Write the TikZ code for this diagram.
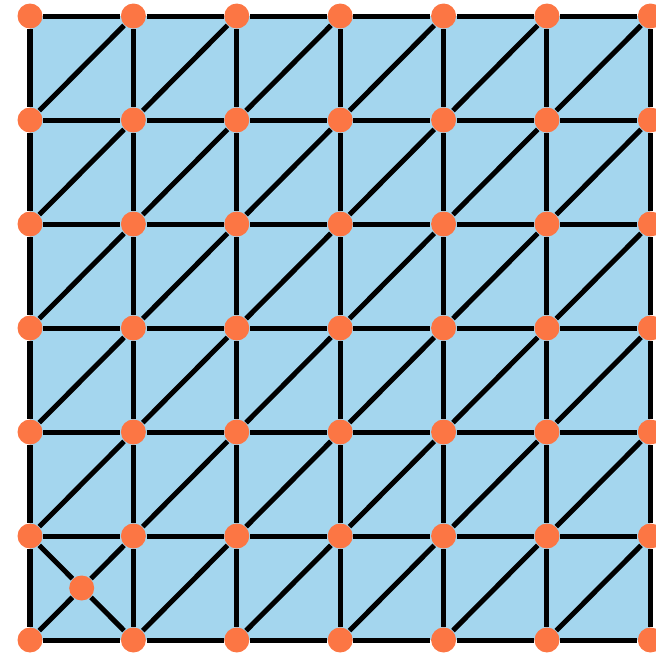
\documentclass[tikz,border=0pt]{standalone}
\usetikzlibrary{calc}
\definecolor{meshblue}{RGB}{164,214,238}
\definecolor{vertorange}{RGB}{252,118,68}

\begin{document}
\begin{tikzpicture}[
  x=1cm, y=1cm,
  vert/.style={circle, fill=vertorange, inner sep=0pt, minimum size=0.25cm},
  edge/.style={draw=black, line width=0.05cm}
]
  \useasboundingbox (0,0) rectangle (6.56,6.57);
  \clip (0,0) rectangle (6.56,6.57);

  % Fondo azul de la malla
  \fill[meshblue] (0.30,0.17) rectangle (6.504,6.41);

  % Vertices de la malla (7 x 7)
  \foreach \i in {0,...,6}{
    \foreach \j in {0,...,6}{
      \node[vert] (v-\i-\j) at ({0.30+1.034*\i},{0.17+1.04*\j}) {};
    }
  }
  % Vertice extra en la celda inferior izquierda
  \node[vert] (c) at ($(v-0-0)!0.5!(v-1-1)$) {};

  % Aristas horizontales y verticales
  \foreach \i [evaluate=\i as \k using int(\i+1)] in {0,...,5}{
    \foreach \j in {0,...,6}{
      \draw[edge] (v-\i-\j) -- (v-\k-\j);
      \draw[edge] (v-\j-\i) -- (v-\j-\k);
    }
  }

  % Diagonales de cada celda
  \foreach \i [evaluate=\i as \k using int(\i+1)] in {0,...,5}{
    \foreach \j [evaluate=\j as \l using int(\j+1)] in {0,...,5}{
      \ifnum\i\j=00 \else
        \draw[edge] (v-\i-\j) -- (v-\k-\l);
      \fi
    }
  }

  % Celda refinada: dos diagonales que pasan por el vertice extra
  \draw[edge] (v-0-0) -- (c);
  \draw[edge] (c) -- (v-1-1);
  \draw[edge] (v-1-0) -- (c);
  \draw[edge] (c) -- (v-0-1);

\end{tikzpicture}
\end{document}
